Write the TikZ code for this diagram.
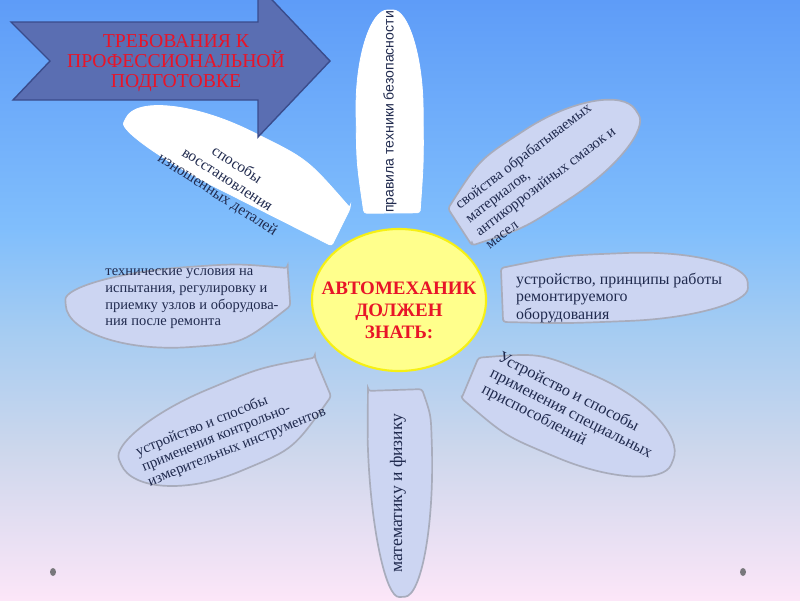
\documentclass[tikz,border=0pt]{standalone}
\usepackage{fontspec}
\setmainfont{Liberation Serif}
\setsansfont{Liberation Sans}
\usetikzlibrary{shapes.geometric}

\definecolor{skytop}{RGB}{94,156,248}
\definecolor{skymid}{RGB}{128,190,252}
\definecolor{skylow}{RGB}{165,204,242}
\definecolor{skyhaze}{RGB}{205,215,236}
\definecolor{skypink}{RGB}{252,230,248}
\definecolor{petallav}{RGB}{204,213,242}
\definecolor{petaledge}{RGB}{168,172,188}
\definecolor{inkblue}{RGB}{32,42,78}
\definecolor{arrowblue}{RGB}{90,110,178}
\definecolor{arrowedge}{RGB}{58,76,140}
\definecolor{signred}{RGB}{232,20,40}
\definecolor{sunfill}{RGB}{255,255,140}
\definecolor{sunedge}{RGB}{246,240,20}
\definecolor{dotgray}{RGB}{120,120,124}

% the path covers 25bp..75bp of the shading
\pgfdeclareverticalshading{skyfade}{100bp}{color(0bp)=(skypink); color(25bp)=(skypink); color(37.5bp)=(skyhaze); color(47.5bp)=(skylow); color(56bp)=(skymid); color(75bp)=(skytop); color(100bp)=(skytop)}

% petal: style, x, y, angle, length, left width, right width, end half width
\def\petalmid{0.5}
\newcommand{\petal}[8]{%
  \begin{scope}[shift={(#2,#3)}, rotate=#4]
    \draw[#1] (0,#8) -- (0,-#8)
      .. controls (0.5*\petalmid*#5,-#6) .. (\petalmid*#5,-#6)
      .. controls ({(\petalmid+0.552*(1-\petalmid))*#5},-#6) and (#5,-0.552*#6) .. (#5,0)
      .. controls (#5,0.552*#7) and ({(\petalmid+0.552*(1-\petalmid))*#5},#7) .. (\petalmid*#5,#7)
      .. controls (0.5*\petalmid*#5,#7) .. (0,#8) -- cycle;
  \end{scope}}

\begin{document}
\begin{tikzpicture}[x=0.025cm, y=-0.025cm,
    whitepetal/.style={fill=white, draw=white, line width=0.6pt, rounded corners=2pt},
    lavpetal/.style={fill=petallav, draw=petaledge, line width=1.2pt, rounded corners=2pt},
    petaltext/.style={text=inkblue, inner sep=0pt, align=left},
    arrowbody/.style={fill=arrowblue, draw=arrowedge, line width=1pt},
    sun/.style={ellipse, fill=sunfill, draw=sunedge, line width=1.5pt, minimum width=4.35cm, minimum height=3.55cm, inner sep=0pt},
    dot/.style={ellipse, fill=dotgray, minimum width=0.15cm, minimum height=0.2cm, inner sep=0pt}]

        \clip (0,0) rectangle (800,600);
        \shade[shading=skyfade] (0,0) rectangle (800,600);

        \petal{whitepetal}{341}{227}{153.7}{241}{20}{46}{21}
        \petal{whitepetal}{392}{213}{90.5}{203}{35}{32}{28}

        \petal{lavpetal}{460}{227}{33}{211}{46}{36}{22}
        \petal{lavpetal}{502}{295}{2.3}{246}{37}{31}{27}
        \def\petalmid{0.45}
        \petal{lavpetal}{289}{287}{184}{224}{53}{27}{19}
        \def\petalmid{0.5}
        \petal{lavpetal}{323}{377}{202.7}{220}{55}{33}{21}
        \petal{lavpetal}{470}{378}{-22.6}{219}{50}{40}{22}
        \def\petalmid{0.25}
        \petal{lavpetal}{395}{390}{271.9}{207}{35}{29}{27}

        \draw[arrowbody] (11,22) -- (258,22) -- (258,-15) -- (330,61) -- (258,137)
          -- (258,100) -- (13,100) -- (50,61) -- cycle;
        \node[text=signred, align=center, font=\fontsize{14}{14.5}\selectfont] (arrowtext) at (176,63)
          {ТРЕБОВАНИЯ К\\ПРОФЕССИОНАЛЬНОЙ\\ПОДГОТОВКЕ};

        \node[sun] (core) at (399,300) {};
        \node[text=signred, align=center, font=\bfseries\fontsize{13.5}{15.6}\selectfont] (coretext)
          at ([yshift=-0.25cm]core.center) {АВТОМЕХАНИК\\ДОЛЖЕН\\ЗНАТЬ:};

        \node[petaltext, align=center, rotate=-33, font=\fontsize{11}{12.5}\selectfont] (restore) at (227,180)
          {способы\\восстановления\\изношенных деталей};
        \node[petaltext, rotate=90, font=\sffamily\fontsize{10}{12}\selectfont] (safety) at (390,112)
          {правила техники безопасности};
        \node[petaltext, rotate=37, font=\fontsize{10.6}{11.8}\selectfont] (materials) at (540,174)
          {свойства обрабатываемых\\материалов,\\антикоррозийных смазок и\\масел};
        \node[petaltext, font=\fontsize{11.3}{12.5}\selectfont] (equipment) at (619,298)
          {устройство, принципы работы\\ремонтируемого\\оборудования};
        \node[petaltext, font=\fontsize{10.3}{11.8}\selectfont] (testing) at (192,299)
          {технические условия на\\испытания, регулировку и\\приемку узлов и оборудова-\\ния после ремонта};
        \node[petaltext, rotate=22, font=\fontsize{10.6}{11.5}\selectfont] (gauges) at (231,432)
          {устройство и способы\\применения контрольно-\\измерительных инструментов};
        \node[petaltext, rotate=90, font=\fontsize{12.5}{13}\selectfont] (physics) at (398,493)
          {математику и физику};
        \node[petaltext, rotate=-27, font=\fontsize{11.6}{12.8}\selectfont] (fixtures) at (571,414)
          {Устройство и способы\\применения специальных\\приспособлений};

        \foreach \dx/\nm in {53/leftdot, 743/rightdot} {
          \node[dot] (\nm) at (\dx,572) {};
        }

\end{tikzpicture}
\end{document}
